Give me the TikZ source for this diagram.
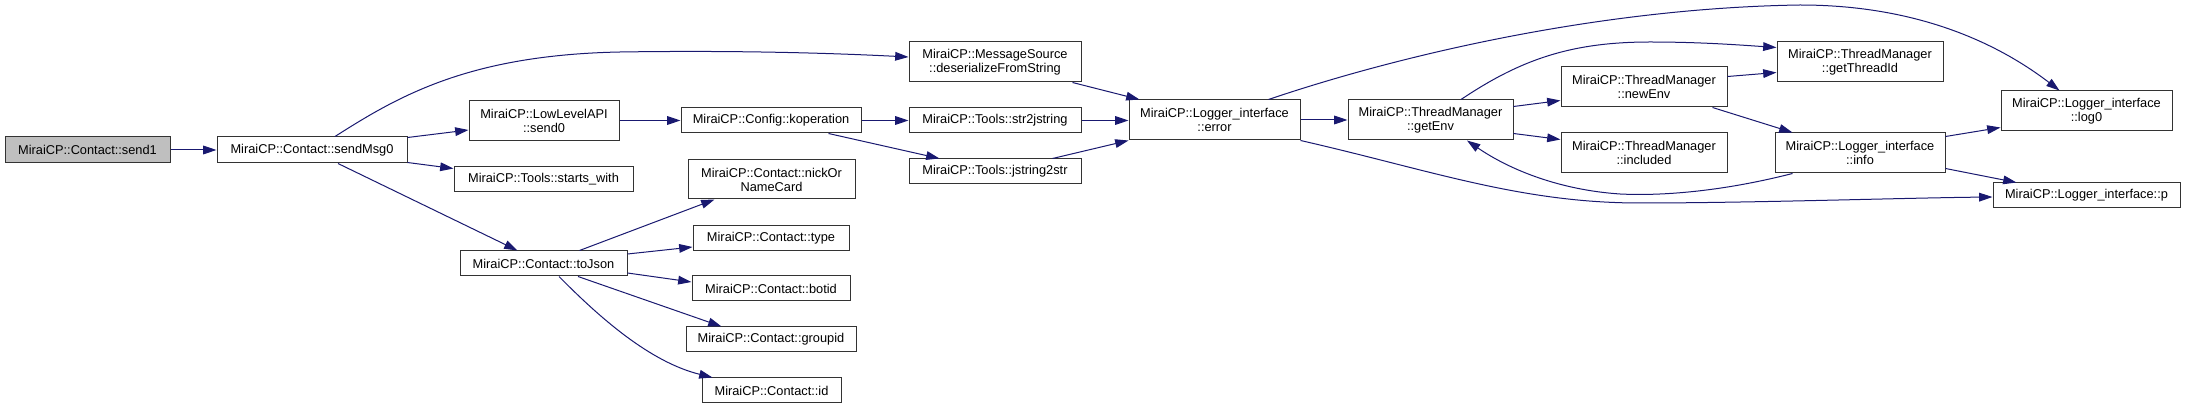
\documentclass[tikz,border=0pt]{standalone}
\usepackage{fontspec}
\setmainfont{Liberation Sans}
\usetikzlibrary{arrows.meta,calc}
\definecolor{edgecol}{HTML}{191970}
\definecolor{boxline}{HTML}{333333}
\definecolor{rootfill}{HTML}{BFBFBF}
\newcommand{\mybox}[7][]{\node[box,#1,minimum width={(#5-#3)*0.75pt},minimum height={(#6-#4)*0.75pt}] (#2) at ({(#3+#5)/2},{(#4+#6)/2}) {#7};}
\begin{document}
\begin{tikzpicture}[x=0.75pt,y=-0.75pt,
  box/.style={draw=boxline, line width=0.75pt, fill=white, inner sep=0pt, align=center, font=\fontsize{9.6pt}{10.5pt}\selectfont},
  call/.style={draw=edgecol, line width=0.75pt, -{Triangle[length=10pt,width=6.5pt]}}]
\path[use as bounding box, fill=white] (0,0) rectangle (2185,409);

% nodes
\mybox[fill=rootfill]{send1}{5}{137}{170}{163}{MiraiCP::Contact::send1}
\mybox{sendMsg0}{217}{137}{407}{163}{MiraiCP::Contact::sendMsg0}
\mybox{send0}{469}{101}{619}{141}{MiraiCP::LowLevelAPI\\::send0}
\mybox{kop}{681}{108}{861}{133}{MiraiCP::Config::koperation}
\mybox{starts}{454}{167}{633}{192}{MiraiCP::Tools::starts\_with}
\mybox{nick}{688}{160}{855}{199}{MiraiCP::Contact::nickOr\\NameCard}
\mybox{type}{693}{226}{849}{251}{MiraiCP::Contact::type}
\mybox{toJson}{460}{251}{627}{276}{MiraiCP::Contact::toJson}
\mybox{botid}{692}{276}{850}{301}{MiraiCP::Contact::botid}
\mybox{groupid}{686}{327}{856}{352}{MiraiCP::Contact::groupid}
\mybox{cid}{702}{378}{841}{403}{MiraiCP::Contact::id}
\mybox{msgsrc}{909}{42}{1081}{82}{MiraiCP::MessageSource\\::deserializeFromString}
\mybox{strj}{909}{108}{1081}{133}{MiraiCP::Tools::str2jstring}
\mybox{jstr}{909}{159}{1081}{184}{MiraiCP::Tools::jstring2str}
\mybox{error}{1129}{100}{1300}{140}{MiraiCP::Logger\_interface\\::error}
\mybox{getEnv}{1348}{100}{1513}{140}{MiraiCP::ThreadManager\\::getEnv}
\mybox{newEnv}{1561}{67}{1727}{107}{MiraiCP::ThreadManager\\::newEnv}
\mybox{included}{1561}{133}{1727}{173}{MiraiCP::ThreadManager\\::included}
\mybox{tid}{1777}{42}{1943}{82}{MiraiCP::ThreadManager\\::getThreadId}
\mybox{info}{1775}{133}{1945}{173}{MiraiCP::Logger\_interface\\::info}
\mybox{log0}{2001}{91}{2172}{131}{MiraiCP::Logger\_interface\\::log0}
\mybox{p}{1993}{183}{2180}{208}{MiraiCP::Logger\_interface::p}

% edges
\draw[call] (send1.east) -- (sendMsg0.west);
\draw[call] ($(sendMsg0.north)+(23,0)$) .. controls (400,95) and (470,55) .. (620,52) .. controls (750,50) and (850,54) .. ($(msgsrc.west)+(0,-5)$);
\draw[call] ($(sendMsg0.north east)+(0,1)$) -- ($(send0.west)+(0,9)$);
\draw[call] ($(sendMsg0.south east)+(0,-1)$) -- ($(starts.north west)+(0,2)$);
\draw[call] ($(sendMsg0.south)+(26,0)$) -- ($(toJson.north)+(-26,0)$);
\draw[call] (send0.east |- kop.west) -- (kop.west);
\draw[call] (kop.east) -- (strj.west);
\draw[call] ($(kop.south east)+(-33,0)$) -- ($(jstr.north west)+(31,0)$);
\draw[call] ($(toJson.north)+(36,0)$) -- ($(nick.south west)+(27,0)$);
\draw[call] ($(toJson.east)+(0,-9.5)$) -- ($(type.west)+(0,8.5)$);
\draw[call] ($(toJson.east)+(0,9.5)$) -- ($(botid.west)+(0,-6.5)$);
\draw[call] ($(toJson.south)+(34.5,0)$) -- ($(groupid.north west)+(36,0)$);
\draw[call] ($(toJson.south)+(15.5,0)$) .. controls (600,318) and (650,362) .. ($(cid.north west)+(11,0)$);
\draw[call] ($(msgsrc.south east)+(-9,0)$) -- ($(error.north west)+(11,0)$);
\draw[call] (strj.east) -- (strj.east -| error.west);
\draw[call] ($(jstr.north east)+(-29,0)$) -- (error.south west);
\draw[call] (error.east) -- (getEnv.west);
\draw[call] ($(error.north east)+(-32,0)$) .. controls (1400,55) and (1600,8) .. (1800,5) .. controls (1920,5) and (2000,45) .. ($(log0.north west)+(59,0)$);
\draw[call] (error.south east) .. controls (1430,170) and (1520,203) .. (1640,203) .. controls (1750,203) and (1900,198) .. ($(p.west)+(0,1.5)$);
\draw[call] ($(getEnv.north)+(30.5,0)$) .. controls (1520,60) and (1570,42) .. (1650,42) .. controls (1700,42) and (1740,45) .. ($(tid.north west)+(0,6)$);
\draw[call] ($(getEnv.north east)+(0,7)$) -- ($(newEnv.south west)+(0,-7)$);
\draw[call] ($(getEnv.south east)+(0,-7)$) -- ($(included.north west)+(0,7)$);
\draw[call] ($(newEnv.north east)+(0,10)$) -- ($(tid.south west)+(0,-10)$);
\draw[call] ($(newEnv.south east)+(-15,0)$) -- ($(info.north west)+(18,0)$);
\draw[call] ($(info.south west)+(18,0)$) .. controls (1720,192) and (1660,196) .. (1620,194) .. controls (1560,190) and (1510,170) .. ($(getEnv.south)+(36.5,0)$);
\draw[call] ($(info.north east)+(0,4)$) -- ($(log0.south west)+(0,-4)$);
\draw[call] ($(info.south east)+(0,-5)$) -- ($(p.north west)+(24,0)$);
\end{tikzpicture}
\end{document}
